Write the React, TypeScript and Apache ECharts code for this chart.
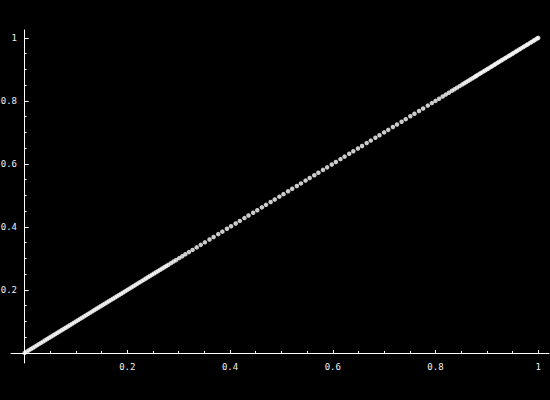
import React, { useEffect, useRef } from "react";
import * as echarts from "echarts";

// Sample positions along the diagonal (each point is plotted at (v, v))
const pointValues: number[] = [
  0, 0.004, 0.008, 0.012, 0.016, 0.02, 0.024, 0.028, 0.032, 0.036, 0.04, 0.044,
  0.048, 0.052, 0.056, 0.06, 0.064, 0.068, 0.072, 0.076, 0.08, 0.084, 0.088,
  0.092, 0.096, 0.1, 0.104, 0.108, 0.112, 0.116, 0.12, 0.124, 0.128, 0.132,
  0.136, 0.14, 0.144, 0.148, 0.152, 0.156, 0.16, 0.164, 0.168, 0.172, 0.176,
  0.18, 0.184, 0.188, 0.192, 0.196, 0.2, 0.204, 0.208, 0.212, 0.216, 0.22,
  0.224, 0.228, 0.232, 0.236, 0.24, 0.244, 0.248, 0.252, 0.256, 0.26, 0.264,
  0.268, 0.272, 0.276, 0.28,
  0.285, 0.29, 0.295, 0.301, 0.307, 0.313, 0.32, 0.327, 0.335, 0.343,
  0.351, 0.36, 0.368, 0.377, 0.385, 0.394, 0.402, 0.411, 0.419, 0.428, 0.436,
  0.445, 0.453, 0.462, 0.47, 0.479, 0.487, 0.496, 0.504, 0.513, 0.521, 0.53,
  0.538, 0.547, 0.555, 0.564, 0.572, 0.581, 0.589, 0.598, 0.606, 0.615, 0.623,
  0.632, 0.64, 0.649, 0.657, 0.666, 0.674, 0.683, 0.691, 0.7, 0.708, 0.717,
  0.725, 0.734, 0.742, 0.751, 0.759, 0.768, 0.776, 0.785, 0.793, 0.8,
  0.807, 0.814, 0.82, 0.826, 0.832, 0.837, 0.842, 0.847, 0.852, 0.856, 0.86,
  0.864, 0.868, 0.872, 0.876,
  0.879, 0.882, 0.886, 0.889, 0.893, 0.896, 0.9, 0.903, 0.907, 0.91, 0.914,
  0.917, 0.921, 0.924, 0.928, 0.931, 0.935, 0.938, 0.942, 0.945, 0.949, 0.952,
  0.956, 0.959, 0.963, 0.966, 0.97, 0.973, 0.977, 0.98, 0.984, 0.987, 0.991,
  0.994, 0.998, 1,
];

const majorTicks: number[] = [0.2, 0.4, 0.6, 0.8, 1];
const minorTicks: number[] = [
  0.05, 0.1, 0.15, 0.25, 0.3, 0.35, 0.45, 0.5, 0.55, 0.65, 0.7, 0.75, 0.85,
  0.9, 0.95,
];

const AXIS_COLOR = "#ffffff";
const LABEL_COLOR = "#f0f0f0";
const FONT = "DejaVu Sans Mono";

export default function App() {
  const ref = useRef<HTMLDivElement>(null);

  useEffect(() => {
    if (!ref.current) return;
    const chart = echarts.init(ref.current, undefined, { renderer: "svg" });

    const xRange = { min: -0.0265, max: 1.021 };
    const yRange = { min: -0.032, max: 1.025 };

    const mainAxis = (
      range: { min: number; max: number },
      tickLen: number,
      labelMargin: number
    ) => ({
      type: "value" as const,
      min: range.min,
      max: range.max,
      axisLine: { show: true, onZero: true, lineStyle: { color: AXIS_COLOR, width: 1 } },
      axisTick: {
        show: true,
        inside: true,
        length: tickLen,
        customValues: majorTicks,
        lineStyle: { color: AXIS_COLOR, width: 1 },
      },
      axisLabel: {
        show: true,
        customValues: majorTicks,
        formatter: (v: number) => String(v),
        color: LABEL_COLOR,
        fontFamily: FONT,
        fontSize: 9,
        margin: labelMargin,
      },
      splitLine: { show: false },
    });

    const minorAxis = (range: { min: number; max: number }) => ({
      type: "value" as const,
      min: range.min,
      max: range.max,
      axisLine: { show: false, onZero: true, onZeroAxisIndex: 0 },
      axisTick: {
        show: true,
        inside: true,
        length: 2,
        customValues: minorTicks,
        lineStyle: { color: AXIS_COLOR, width: 1 },
      },
      axisLabel: { show: false },
      splitLine: { show: false },
    });

    chart.setOption({
      animation: false,
      backgroundColor: "#000000",
      grid: {
        left: 11,
        right: 1,
        top: 30,
        bottom: 37,
        containLabel: false,
        outerBoundsMode: "none",
      },
      xAxis: [
        { ...mainAxis(xRange, 3, -1) },
        { ...minorAxis(xRange), position: "bottom" },
      ],
      yAxis: [
        { ...mainAxis(yRange, 4, -6) },
        { ...minorAxis(yRange), position: "left" },
      ],
      series: [
        {
          type: "scatter",
          xAxisIndex: 0,
          yAxisIndex: 0,
          symbol: "circle",
          symbolSize: 4.5,
          itemStyle: { color: "#ffffff" },
          data: pointValues.map((v) => [v, v]),
        },
      ],
    });

    return () => chart.dispose();
  }, []);

  return (
    <div
      ref={ref}
      style={{ position: "fixed", left: 0, top: 0, width: 550, height: 400 }}
    />
  );
}
